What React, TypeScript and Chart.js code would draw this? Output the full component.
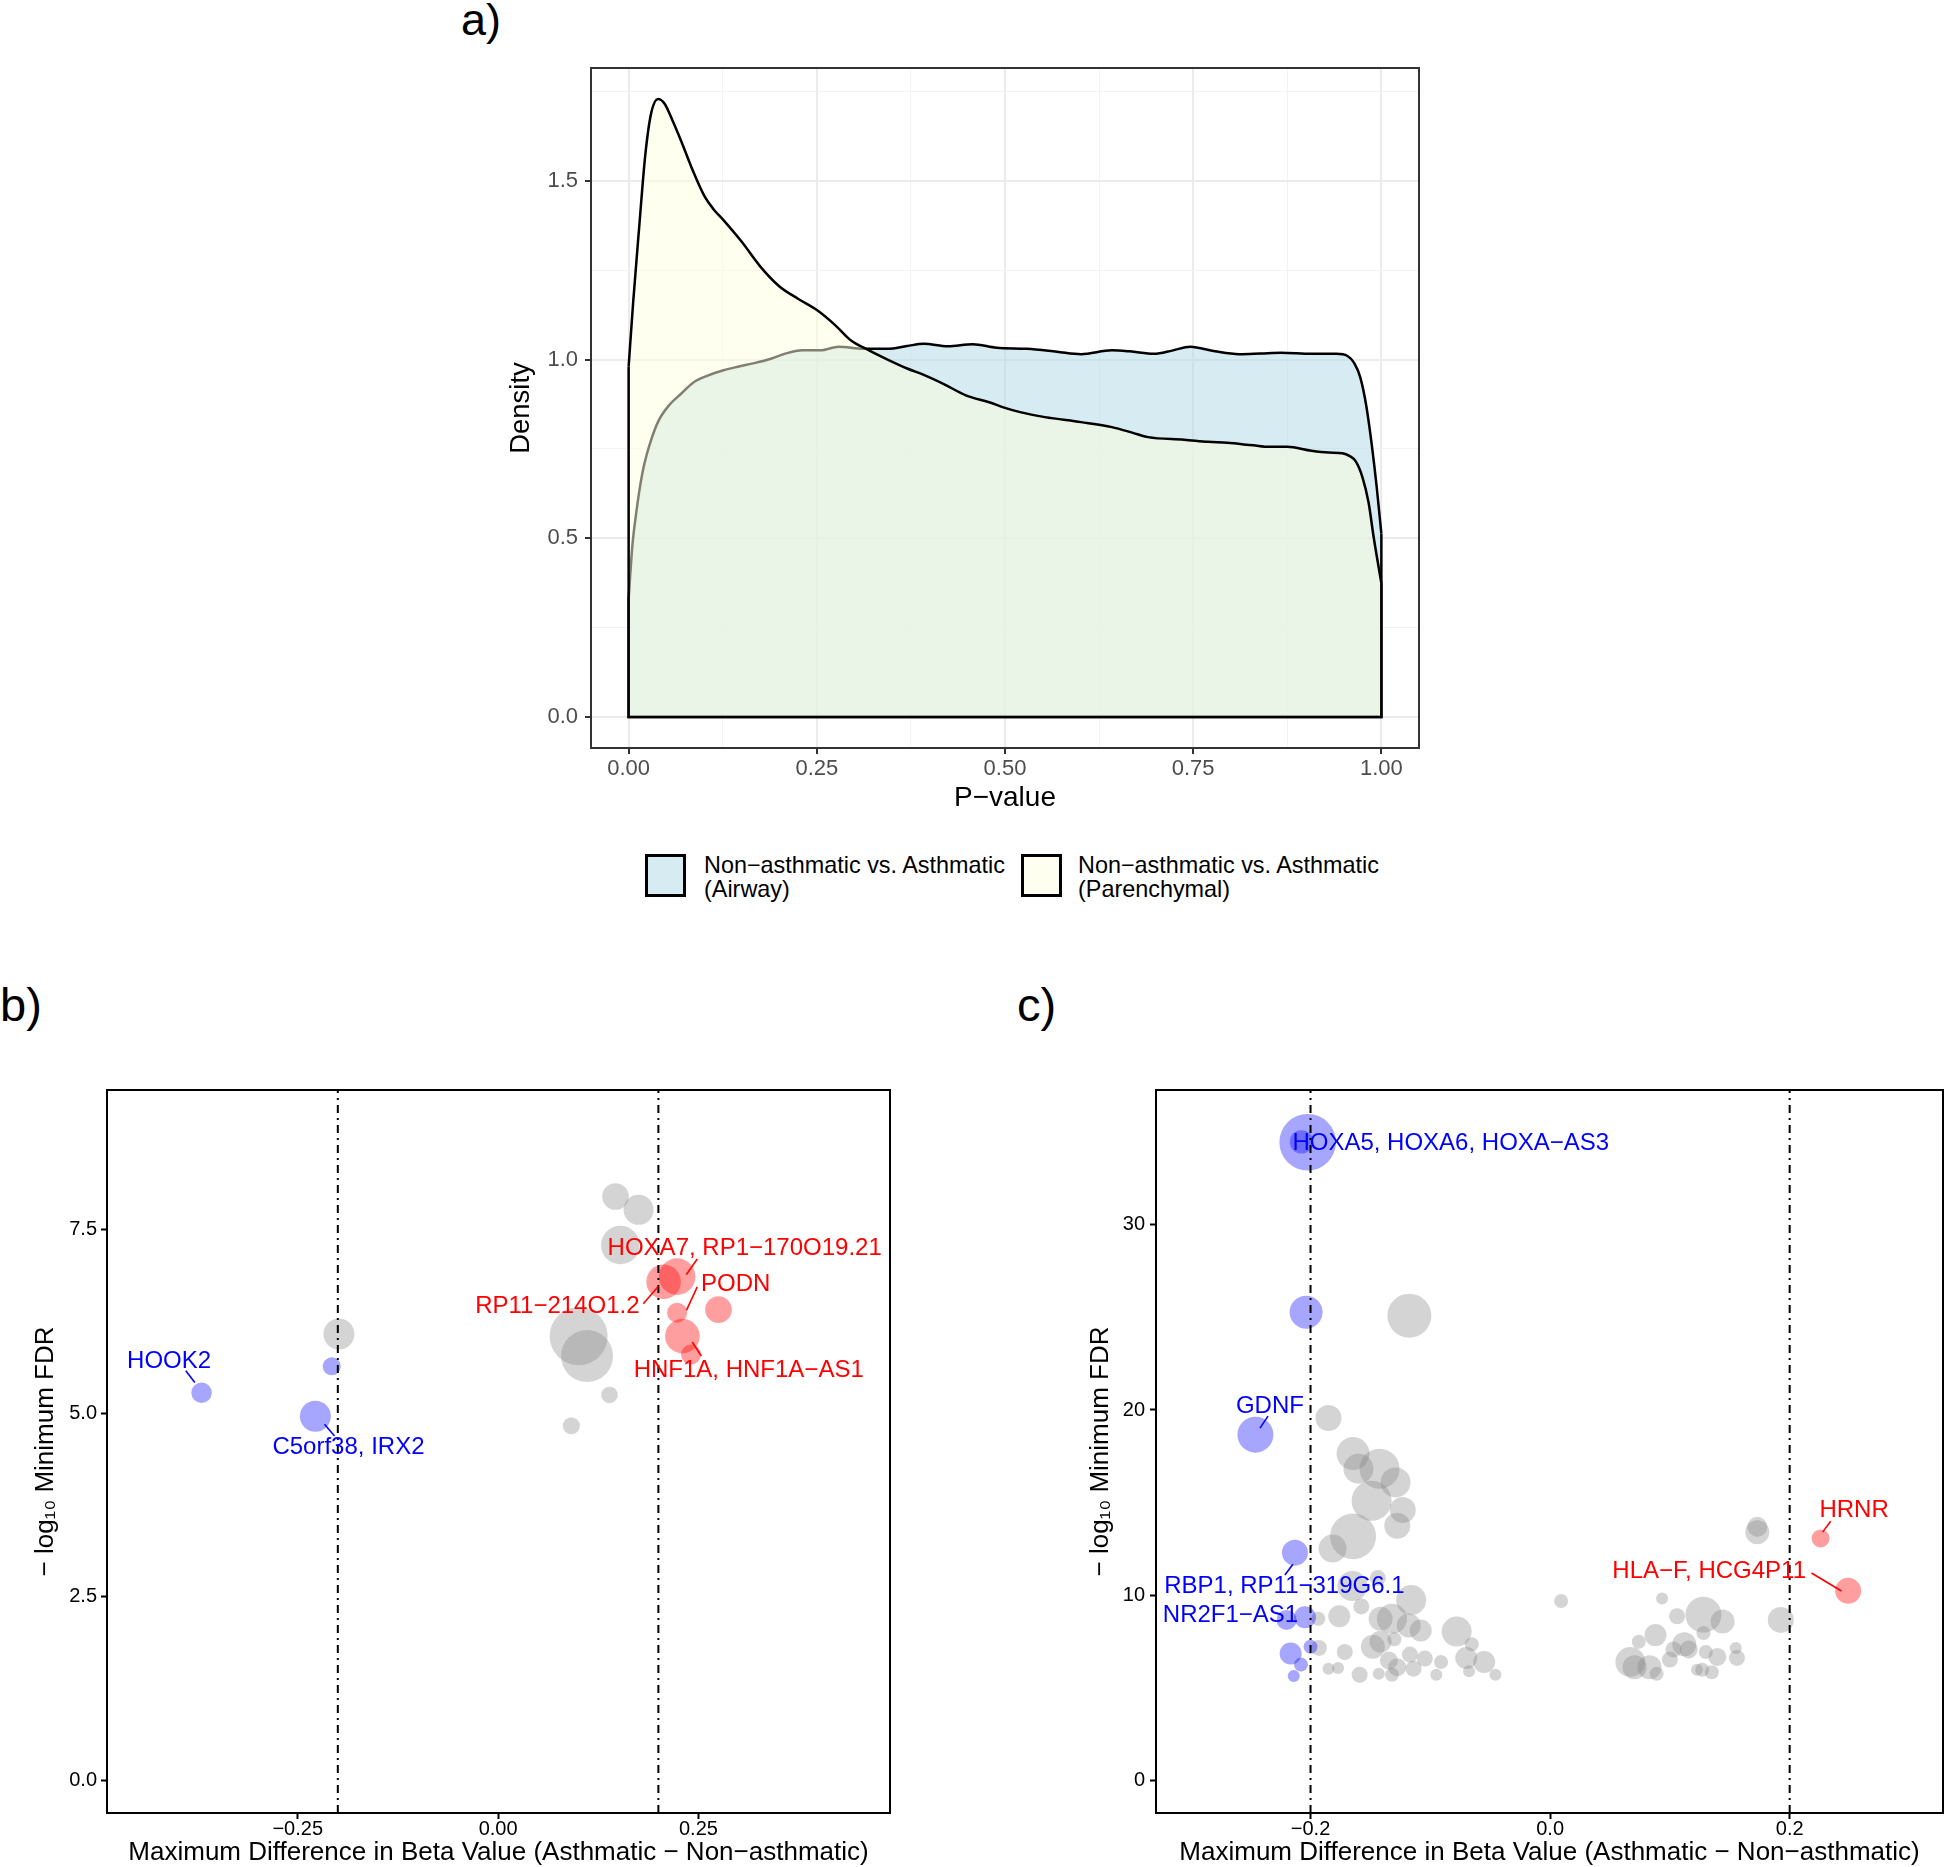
import React, { useEffect, useRef } from "react";
import { Chart, registerables } from "chart.js";

Chart.register(...registerables);

const FONT = '"Liberation Sans", Arial, Helvetica, sans-serif';
Chart.defaults.font.family = FONT;

// ---------------- Panel a: P-value densities ----------------
const airwayP = [0, 0.005, 0.01, 0.014, 0.02, 0.03, 0.04, 0.054, 0.07, 0.086, 0.105, 0.126, 0.145, 0.167, 0.19, 0.207, 0.231, 0.255, 0.279, 0.312, 0.344, 0.37, 0.392, 0.424, 0.457, 0.489, 0.529, 0.569, 0.601, 0.642, 0.666, 0.698, 0.722, 0.746, 0.779, 0.811, 0.84, 0.867, 0.907, 0.94, 0.955, 0.964, 0.972, 0.98, 0.988, 0.994, 1.0];
const airwayDensity = [0.33, 0.48, 0.57, 0.63, 0.7, 0.776, 0.83, 0.873, 0.905, 0.936, 0.955, 0.97, 0.98, 0.99, 1.003, 1.016, 1.026, 1.026, 1.036, 1.03, 1.03, 1.038, 1.044, 1.037, 1.043, 1.033, 1.03, 1.022, 1.015, 1.026, 1.023, 1.016, 1.025, 1.036, 1.023, 1.015, 1.017, 1.019, 1.016, 1.016, 1.01, 0.99, 0.95, 0.87, 0.749, 0.64, 0.513];
const parenchymalP = [0, 0.006, 0.014, 0.022, 0.03, 0.039, 0.048, 0.058, 0.07, 0.085, 0.1, 0.113, 0.126, 0.15, 0.175, 0.2, 0.225, 0.251, 0.275, 0.295, 0.32, 0.344, 0.37, 0.392, 0.42, 0.448, 0.48, 0.5, 0.52, 0.553, 0.601, 0.642, 0.67, 0.69, 0.738, 0.77, 0.795, 0.83, 0.851, 0.875, 0.907, 0.93, 0.948, 0.958, 0.966, 0.975, 0.983, 0.99, 1.0];
const parenchymalDensity = [0.98, 1.16, 1.37, 1.57, 1.69, 1.729, 1.715, 1.67, 1.61, 1.53, 1.46, 1.42, 1.39, 1.33, 1.26, 1.205, 1.17, 1.137, 1.095, 1.054, 1.025, 1.0, 0.975, 0.957, 0.93, 0.9, 0.88, 0.865, 0.853, 0.839, 0.825, 0.811, 0.795, 0.783, 0.776, 0.77, 0.767, 0.76, 0.756, 0.756, 0.745, 0.74, 0.738, 0.73, 0.715, 0.67, 0.6, 0.5, 0.374];
const pValueTicks = [0, 0.25, 0.5, 0.75, 1];
const pValueMinorTicks = [0.125, 0.375, 0.625, 0.875];
const densityTicks = [0, 0.5, 1, 1.5];
const densityMinorTicks = [0.25, 0.75, 1.25, 1.75];
const legendLabels = ["Non\u2212asthmatic vs. Asthmatic\n(Airway)", "Non\u2212asthmatic vs. Asthmatic\n(Parenchymal)"];

// ---------------- Panel b ----------------
const bGreyBeta = [0.1465, 0.1753, 0.1525, 0.1005, 0.111, 0.139, 0.0914, -0.1986];
const bGreyFdr = [7.95, 7.77, 7.29, 6.05, 5.78, 5.25, 4.83, 6.08];
const bGreyN = [11.1, 14.1, 23.3, 52.6, 42.3, 4.3, 4.6, 15.0];
const bBlueBeta = [-0.37, -0.2076, -0.228];
const bBlueFdr = [5.28, 5.64, 4.96];
const bBlueN = [6.6, 5.1, 15.0];
const bRedBeta = [0.2065, 0.2234, 0.2234, 0.275, 0.23, 0.2407];
const bRedFdr = [6.79, 6.86, 6.37, 6.41, 6.05, 5.8];
const bRedN = [18.7, 20.9, 6.25, 11.1, 18.7, 6.25];
const bXTicks = [-0.25, 0, 0.25];
const bYTicks = [0, 2.5, 5, 7.5];

// ---------------- Panel c ----------------
const cGreyBeta = [-0.1175, -0.185, -0.1645, -0.16, -0.1424, -0.129, -0.149, -0.123, -0.1276, -0.1645, -0.1816, -0.1438, -0.116, -0.165, -0.1576, -0.176, -0.1935, -0.1415, -0.132, -0.118, -0.108, -0.078, -0.1415, -0.148, -0.13, -0.193, -0.1714, -0.117, -0.1046, -0.091, -0.0654, -0.07, -0.055, -0.1346, -0.1276, -0.177, -0.185, -0.159, -0.143, -0.132, -0.095, -0.0677, -0.0456, -0.114,
  0.0092, 0.0935, 0.106, 0.128, 0.144, 0.128, 0.173, 0.173, 0.1926, 0.088, 0.074, 0.112, 0.1157, 0.1, 0.067, 0.0705, 0.083, 0.089, 0.13, 0.1396, 0.155, 0.156, 0.127, 0.135, 0.1226, 0.103];
const cGreyFdr = [25.09, 19.57, 17.65, 16.83, 16.83, 16.09, 15.1, 14.6, 13.75, 13.18, 12.52, 10.93, 9.74, 10.5, 9.4, 8.87, 8.73, 8.73, 8.73, 8.37, 8.1, 8.04, 7.49, 7.22, 7.63, 7.16, 6.94, 6.8, 6.59, 6.4, 7.36, 6.62, 6.4, 6.48, 6.12, 6.07, 6.04, 5.71, 5.76, 5.71, 5.71, 5.9, 5.71, 6.04,
  9.69, 9.83, 8.87, 8.95, 8.59, 7.96, 13.4, 13.7, 8.67, 7.85, 7.49, 7.36, 7.08, 6.53, 6.4, 6.12, 6.12, 5.76, 6.94, 6.67, 7.16, 6.62, 5.98, 5.85, 5.98, 7.08];
const cGreyN = [30.25, 10.56, 17, 14.06, 25, 14.06, 25, 10.56, 10.56, 33, 12.25, 4, 14.06, 14.06, 4, 7.56, 3.06, 9, 14.06, 9, 7.56, 14.06, 7.56, 9, 3.06, 4, 4, 4, 4, 3.06, 3.06, 7.56, 7.56, 5.06, 5.06, 2.25, 2.25, 4, 2.25, 3.06, 2.25, 2.25, 2.25, 4,
  3.06, 2.25, 4, 20.25, 9, 3.06, 9, 6.25, 10.56, 7.56, 3.06, 9, 5.06, 4, 14.06, 9, 9, 3.06, 3.06, 5.06, 2.25, 4, 3.06, 3.06, 2.25, 4];
const cBlueBeta = [-0.2024, -0.2076, -0.2037, -0.246, -0.213, -0.2046, -0.22, -0.2166, -0.208, -0.214, -0.2];
const cBlueFdr = [34.45, 34.47, 25.28, 18.67, 12.3, 8.81, 8.67, 6.86, 6.26, 5.65, 7.22];
const cBlueN = [50, 8.6, 17, 20.25, 10.56, 7.56, 6.25, 7.56, 3.06, 2.25, 3.06];
const cRedBeta = [0.2258, 0.2488];
const cRedFdr = [13.07, 10.24];
const cRedN = [5.06, 10.56];
const cXTicks = [-0.2, 0, 0.2];
const cYTicks = [0, 10, 20, 30];

const betaThresholds = [-0.2, 0.2];

const BLUE_TXT = "#0000ff";
const RED_TXT = "#ff0000";

// gene label annotations (data units): text centre, and leader segment
const bLabels = [
  { text: "HOOK2", x: -0.4105, y: 5.7, color: BLUE_TXT, seg: [-0.3897, 5.58, -0.3784, 5.42] },
  { text: "C5orf38, IRX2", x: -0.1867, y: 4.54, color: BLUE_TXT, seg: [-0.2166, 4.85, -0.2041, 4.69] },
  { text: "HOXA7, RP1\u2212170O19.21", x: 0.3077, y: 7.25, color: RED_TXT, seg: [0.2485, 7.1, 0.235, 6.89] },
  { text: "PODN", x: 0.2965, y: 6.76, color: RED_TXT, seg: [0.2485, 6.72, 0.235, 6.4] },
  { text: "RP11\u2212214O1.2", x: 0.0739, y: 6.45, color: RED_TXT, seg: [0.1812, 6.49, 0.2, 6.73] },
  { text: "HNF1A, HNF1A\u2212AS1", x: 0.3127, y: 5.59, color: RED_TXT, seg: [0.2423, 5.97, 0.2535, 5.78] },
];
const cLabels = [
  { text: "HOXA5, HOXA6, HOXA\u2212AS3", x: -0.0829, y: 34.4, color: BLUE_TXT, seg: null },
  { text: "GDNF", x: -0.2339, y: 20.21, color: BLUE_TXT, seg: [-0.2355, 19.67, -0.2422, 19.02] },
  { text: "RBP1, RP11\u2212319G6.1", x: -0.2218, y: 10.5, color: BLUE_TXT, seg: [-0.2147, 11.68, -0.2214, 11.09] },
  { text: "NR2F1\u2212AS1", x: -0.2668, y: 8.93, color: BLUE_TXT, seg: null },
  { text: "HRNR", x: 0.2538, y: 14.6, color: RED_TXT, seg: [0.2342, 14.0, 0.2275, 13.41] },
  { text: "HLA\u2212F, HCG4P11", x: 0.1328, y: 11.31, color: RED_TXT, seg: [0.2182, 11.2, 0.2432, 10.23] },
];

const X_TITLE = "Maximum Difference in Beta Value (Asthmatic \u2212 Non\u2212asthmatic)";
const Y_TITLE = "\u2212 log\u2081\u2080 Minimum FDR";

const radiusOf = (n: number) => 4 * Math.sqrt(n);
const fmt = (v: number, d: number) => v.toFixed(d).replace("-", "\u2212");
const near = (arr: number[], v: number) => arr.some((m) => Math.abs(m - v) < 1e-9);

const bubbles = (xs: number[], ys: number[], ns: number[]) =>
  xs.map((x, i) => ({ x, y: ys[i], r: radiusOf(ns[i]) }));

function framePlugin(color: string, width: number) {
  return {
    id: "frame",
    afterDatasetsDraw(chart: any) {
      const { ctx, chartArea: a } = chart;
      ctx.save();
      ctx.strokeStyle = color;
      ctx.lineWidth = width;
      ctx.strokeRect(a.left, a.top, a.right - a.left, a.bottom - a.top);
      ctx.restore();
    },
  };
}

function labelPlugin(labels: any[]) {
  return {
    id: "geneLabels",
    afterDatasetsDraw(chart: any) {
      const { ctx } = chart;
      const xs = chart.scales.x;
      const ys = chart.scales.y;
      ctx.save();
      ctx.font = `24px ${FONT}`;
      ctx.textAlign = "center";
      ctx.textBaseline = "middle";
      for (const l of labels) {
        ctx.fillStyle = l.color;
        ctx.strokeStyle = l.color;
        ctx.lineWidth = 1.6;
        if (l.seg) {
          ctx.beginPath();
          ctx.moveTo(xs.getPixelForValue(l.seg[0]), ys.getPixelForValue(l.seg[1]));
          ctx.lineTo(xs.getPixelForValue(l.seg[2]), ys.getPixelForValue(l.seg[3]));
          ctx.stroke();
        }
        ctx.fillText(l.text, xs.getPixelForValue(l.x), ys.getPixelForValue(l.y));
      }
      ctx.restore();
    },
  };
}

function densityConfig(): any {
  const airway = airwayP.map((x, i) => ({ x, y: airwayDensity[i] }));
  const paren = parenchymalP.map((x, i) => ({ x, y: parenchymalDensity[i] }));
  const edges = (ps: number[], ds: number[]) => [
    { x: ps[0], y: ds[0] },
    { x: ps[0], y: 0 },
    { x: ps[ps.length - 1], y: 0 },
    { x: ps[ps.length - 1], y: ds[ds.length - 1] },
  ];
  const gridFor = (majors: number[]) => ({
    color: (c: any) => (c.tick && near(majors, c.tick.value) ? "#ebebeb" : "#f3f3f3"),
    lineWidth: (c: any) => (c.tick && near(majors, c.tick.value) ? 2 : 1),
    tickColor: (c: any) => (c.tick && near(majors, c.tick.value) ? "#333333" : "rgba(0,0,0,0)"),
    tickWidth: 2,
    tickLength: 6,
    drawOnChartArea: true,
    drawTicks: true,
  });
  return {
    type: "line",
    data: {
      datasets: [
        { data: airway, borderColor: "#000", borderWidth: 2.5, backgroundColor: "rgba(173,216,230,0.5)", fill: "origin", pointRadius: 0, cubicInterpolationMode: "monotone", order: 4 },
        { data: edges(airwayP, airwayDensity), borderColor: "#000", borderWidth: 2.5, fill: false, pointRadius: 0, tension: 0, order: 3 },
        { data: paren, borderColor: "#000", borderWidth: 2.5, backgroundColor: "rgba(255,255,224,0.5)", fill: "origin", pointRadius: 0, cubicInterpolationMode: "monotone", order: 2 },
        { data: edges(parenchymalP, parenchymalDensity), borderColor: "#000", borderWidth: 2.5, fill: false, pointRadius: 0, tension: 0, order: 1 },
      ],
    },
    options: {
      responsive: false,
      animation: false,
      events: [],
      layout: { autoPadding: false, padding: { top: 16, right: 51, left: 0, bottom: 0 } },
      plugins: { legend: { display: false }, tooltip: { enabled: false } },
      scales: {
        x: {
          type: "linear",
          min: -0.05,
          max: 1.05,
          afterBuildTicks: (s: any) => {
            s.ticks = [...pValueTicks, ...pValueMinorTicks].sort((a, b) => a - b).map((v) => ({ value: v }));
          },
          afterFit: (s: any) => {
            s.height = 102;
          },
          ticks: {
            font: { size: 22, lineHeight: 1 },
            color: "#4d4d4d",
            padding: 4,
            autoSkip: false,
            maxRotation: 0,
            callback: (v: number) => (near(pValueTicks, v) ? v.toFixed(2) : ""),
          },
          grid: gridFor(pValueTicks),
          border: { display: false },
          title: { display: true, text: "P\u2212value", color: "#000", font: { size: 28, lineHeight: 1 }, padding: { top: 0, bottom: 38 } },
        },
        y: {
          type: "linear",
          min: -0.0865,
          max: 1.8155,
          afterBuildTicks: (s: any) => {
            s.ticks = [...densityTicks, ...densityMinorTicks].sort((a, b) => a - b).map((v) => ({ value: v }));
          },
          afterFit: (s: any) => {
            s.width = 171;
          },
          ticks: {
            font: { size: 22, lineHeight: 1 },
            color: "#4d4d4d",
            padding: 7,
            autoSkip: false,
            callback: (v: number) => (near(densityTicks, v) ? v.toFixed(1) : ""),
          },
          grid: gridFor(densityTicks),
          border: { display: false },
          title: { display: true, text: "Density", color: "#000", font: { size: 27.5, lineHeight: 1 }, padding: { top: 88, bottom: 0 } },
        },
      },
    },
    plugins: [framePlugin("#333333", 2)],
  };
}

function scatterConfig(p: any): any {
  const vline = (x: number) => ({
    type: "line",
    data: [{ x, y: p.yMin }, { x, y: p.yMax }],
    borderColor: "#000",
    borderWidth: 2,
    borderDash: [8, 5, 2, 5],
    pointRadius: 0,
    fill: false,
    tension: 0,
    order: 1,
  });
  return {
    type: "bubble",
    data: {
      datasets: [
        { data: p.red, backgroundColor: "rgba(255,0,0,0.38)", borderWidth: 0, order: 2 },
        { data: p.blue, backgroundColor: "rgba(0,0,255,0.35)", borderWidth: 0, order: 3 },
        { data: p.grey, backgroundColor: "rgba(128,128,128,0.34)", borderWidth: 0, order: 4 },
        ...betaThresholds.map(vline),
      ],
    },
    options: {
      responsive: false,
      animation: false,
      events: [],
      layout: { autoPadding: false, padding: { top: 30, right: p.padRight, left: 0, bottom: 0 } },
      plugins: { legend: { display: false }, tooltip: { enabled: false } },
      scales: {
        x: {
          type: "linear",
          min: p.xMin,
          max: p.xMax,
          afterBuildTicks: (s: any) => {
            s.ticks = p.xTicks.map((v: number) => ({ value: v }));
          },
          afterFit: (s: any) => {
            s.height = 54;
          },
          ticks: { font: { size: 20, lineHeight: 1 }, color: "#000", padding: 0, autoSkip: false, maxRotation: 0, callback: (v: number) => fmt(v, p.xDigits) },
          grid: { drawOnChartArea: false, drawTicks: true, tickLength: 6, tickWidth: 2, tickColor: "#000" },
          border: { display: false },
          title: { display: true, text: X_TITLE, color: "#000", font: { size: 26, lineHeight: 1 }, padding: { top: 0, bottom: 1 } },
        },
        y: {
          type: "linear",
          min: p.yMin,
          max: p.yMax,
          afterBuildTicks: (s: any) => {
            s.ticks = p.yTicks.map((v: number) => ({ value: v }));
          },
          afterFit: (s: any) => {
            s.width = p.yWidth;
          },
          ticks: { font: { size: 20, lineHeight: 1 }, color: "#000", padding: p.yPad, autoSkip: false, callback: (v: number) => fmt(v, p.yDigits) },
          grid: { drawOnChartArea: false, drawTicks: true, tickLength: 6, tickWidth: 2, tickColor: "#000" },
          border: { display: false },
          title: { display: true, text: Y_TITLE, color: "#000", font: { size: 26, lineHeight: 1 }, padding: { top: p.yTitlePad, bottom: 0 } },
        },
      },
    },
    plugins: [framePlugin("#000", 2), labelPlugin(p.labels)],
  };
}

function ChartCanvas({ left, top, width, height, build }: any) {
  const ref = useRef<HTMLCanvasElement>(null);
  useEffect(() => {
    const chart = new Chart(ref.current as HTMLCanvasElement, build());
    return () => chart.destroy();
  }, []);
  return <canvas ref={ref} width={width} height={height} style={{ position: "absolute", left, top, width, height }} />;
}

const legendSwatches = ["rgb(214,235,242)", "rgb(255,255,240)"];

export default function App() {
  const panelLabel = (text: string, left: number, top: number, size: number) => (
    <div style={{ position: "absolute", left, top, fontSize: size, lineHeight: 1, fontFamily: FONT, color: "#000" }}>{text}</div>
  );
  const legendPos = [
    { box: 645, text: 704 },
    { box: 1021, text: 1078 },
  ];
  return (
    <div style={{ position: "absolute", left: 0, top: 0, width: 1946, height: 1867, background: "#fff", overflow: "hidden" }}>
      {panelLabel("a)", 461, -3, 45)}
      {panelLabel("b)", 0, 981, 47)}
      {panelLabel("c)", 1017, 981, 47)}
      <ChartCanvas left={420} top={50} width={1050} height={800} build={densityConfig} />
      {legendLabels.map((lab, i) => (
        <React.Fragment key={i}>
          <div
            style={{
              position: "absolute",
              left: legendPos[i].box,
              top: 854,
              width: 41,
              height: 43,
              boxSizing: "border-box",
              border: "3px solid #000",
              background: legendSwatches[i],
            }}
          />
          <div
            style={{
              position: "absolute",
              left: legendPos[i].text,
              top: 853,
              fontSize: 23.4,
              lineHeight: "24px",
              fontFamily: FONT,
              color: "#000",
              whiteSpace: "pre",
            }}
          >
            {lab}
          </div>
        </React.Fragment>
      ))}
      <ChartCanvas
        left={0}
        top={1060}
        width={940}
        height={807}
        build={() =>
          scatterConfig({
            grey: bubbles(bGreyBeta, bGreyFdr, bGreyN),
            blue: bubbles(bBlueBeta, bBlueFdr, bBlueN),
            red: bubbles(bRedBeta, bRedFdr, bRedN),
            xMin: -0.488,
            xMax: 0.489,
            yMin: -0.44,
            yMax: 9.4,
            xTicks: bXTicks,
            yTicks: bYTicks,
            xDigits: 2,
            yDigits: 1,
            padRight: 50,
            yWidth: 107,
            yPad: 4,
            yTitlePad: 33,
            labels: bLabels,
          })
        }
      />
      <ChartCanvas
        left={1040}
        top={1060}
        width={906}
        height={807}
        build={() =>
          scatterConfig({
            grey: bubbles(cGreyBeta, cGreyFdr, cGreyN),
            blue: bubbles(cBlueBeta, cBlueFdr, cBlueN),
            red: bubbles(cRedBeta, cRedFdr, cRedN),
            xMin: -0.329,
            xMax: 0.328,
            yMin: -1.75,
            yMax: 37.27,
            xTicks: cXTicks,
            yTicks: cYTicks,
            xDigits: 1,
            yDigits: 0,
            padRight: 3,
            yWidth: 116,
            yPad: 5,
            yTitlePad: 48,
            labels: cLabels,
          })
        }
      />
    </div>
  );
}
